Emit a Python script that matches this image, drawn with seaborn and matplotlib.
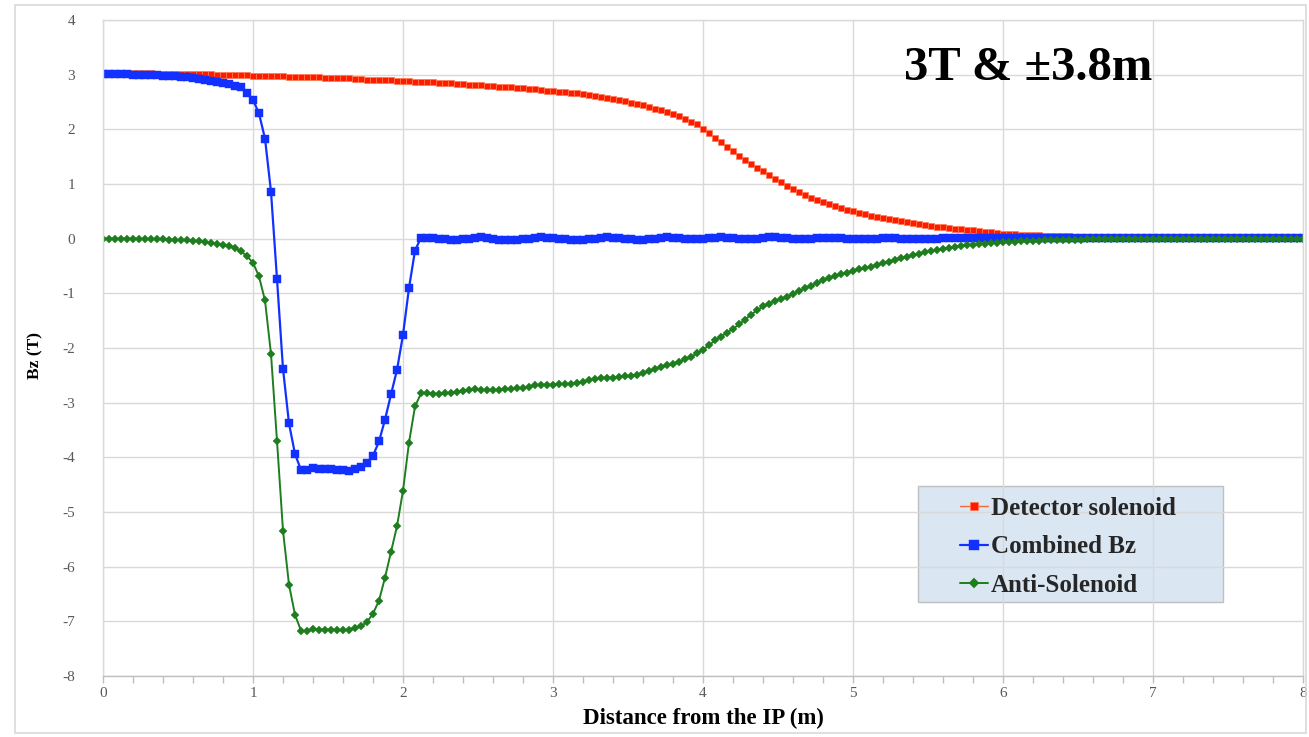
import numpy as np
import pandas as pd
import seaborn as sns
import matplotlib
matplotlib.use("Agg")
import matplotlib.pyplot as plt
from matplotlib.ticker import MultipleLocator
from matplotlib.patches import Rectangle

# ---------------- data ----------------
distance = np.round(np.arange(201) * 0.04, 2)   # sample positions along z (m)

detector = [
    3.03, 3.03, 3.03, 3.03, 3.03, 3.03, 3.03, 3.03, 3.03, 3.02, 3.02, 3.02, 3.02, 3.02, 3.02, 3.01, 3.01, 3.01, 3.01, 3.00, 3.00, 3.00, 3.00, 2.99, 2.99,
    2.98, 2.98, 2.98, 2.97, 2.97, 2.97, 2.96, 2.96, 2.96, 2.95, 2.95, 2.95, 2.94, 2.94, 2.93, 2.93, 2.93, 2.92, 2.92, 2.91, 2.91, 2.91, 2.90, 2.90, 2.89,
    2.88, 2.88, 2.87, 2.87, 2.86, 2.86, 2.85, 2.85, 2.84, 2.83, 2.83, 2.82, 2.81, 2.81, 2.80, 2.79, 2.78, 2.78, 2.77, 2.76, 2.75, 2.74, 2.73, 2.72, 2.71,
    2.70, 2.69, 2.68, 2.67, 2.66, 2.64, 2.63, 2.61, 2.59, 2.57, 2.55, 2.53, 2.51, 2.49, 2.47, 2.44, 2.41, 2.38, 2.35, 2.32, 2.28, 2.24, 2.19, 2.14, 2.09,
    2.00, 1.93, 1.84, 1.76, 1.68, 1.60, 1.52, 1.44, 1.37, 1.30, 1.23, 1.16, 1.09, 1.03, 0.97, 0.91, 0.85, 0.80, 0.75, 0.71, 0.67, 0.63, 0.59, 0.56, 0.53,
    0.50, 0.47, 0.45, 0.42, 0.40, 0.38, 0.36, 0.34, 0.32, 0.30, 0.28, 0.27, 0.25, 0.24, 0.22, 0.21, 0.20, 0.18, 0.17, 0.16, 0.15, 0.14, 0.13, 0.12, 0.11,
    0.09, 0.08, 0.08, 0.07, 0.07, 0.06, 0.06, 0.05, 0.05, 0.04, 0.04, 0.04, 0.03, 0.03, 0.03, 0.03, 0.02, 0.02, 0.02, 0.02, 0.02, 0.02, 0.02, 0.02, 0.02,
    0.02, 0.02, 0.02, 0.02, 0.02, 0.02, 0.02, 0.02, 0.02, 0.02, 0.02, 0.02, 0.02, 0.02, 0.02, 0.02, 0.02, 0.02, 0.02, 0.02, 0.02, 0.02, 0.02, 0.02, 0.02,
    0.02,
]

combined = [
    3.01, 3.01, 3.01, 3.01, 3.01, 3.00, 3.00, 3.00, 2.99, 2.99, 2.98, 2.98, 2.97, 2.96, 2.95, 2.94, 2.92, 2.91, 2.89, 2.87, 2.85, 2.83, 2.80, 2.77, 2.67,
    2.54, 2.29, 1.83, 0.86, -0.74, -2.38, -3.38, -3.94, -4.23, -4.24, -4.19, -4.22, -4.21, -4.22, -4.23, -4.24, -4.25, -4.22, -4.18, -4.11, -3.97, -3.71, -3.31, -2.85, -2.40,
    -1.76, -0.90, -0.22, 0.02, 0.02, 0.01, 0.00, -0.01, -0.02, -0.02, -0.01, 0.00, 0.02, 0.03, 0.01, -0.01, -0.02, -0.03, -0.02, -0.02, -0.01, 0.00, 0.02, 0.03, 0.02,
    0.01, 0.00, -0.01, -0.02, -0.02, -0.02, -0.01, 0.00, 0.02, 0.03, 0.02, 0.01, 0.00, -0.01, -0.02, -0.02, -0.01, 0.00, 0.02, 0.03, 0.02, 0.01, 0.00, -0.01, -0.01,
    0.00, 0.01, 0.02, 0.03, 0.02, 0.01, 0.00, -0.01, -0.01, 0.00, 0.02, 0.03, 0.03, 0.02, 0.01, 0.00, -0.01, -0.01, 0.00, 0.01, 0.02, 0.02, 0.02, 0.01, 0.00,
    -0.01, -0.01, -0.01, 0.00, 0.00, 0.01, 0.01, 0.01, 0.00, 0.00, -0.01, -0.01, 0.00, 0.00, 0.00, 0.01, 0.01, 0.01, 0.01, 0.01, 0.01, 0.01, 0.02, 0.02, 0.02,
    0.02, 0.02, 0.02, 0.02, 0.02, 0.02, 0.02, 0.02, 0.02, 0.02, 0.02, 0.02, 0.02, 0.02, 0.02, 0.02, 0.02, 0.02, 0.02, 0.02, 0.02, 0.02, 0.02, 0.02, 0.02,
    0.02, 0.02, 0.02, 0.02, 0.02, 0.02, 0.02, 0.02, 0.02, 0.02, 0.02, 0.02, 0.02, 0.02, 0.02, 0.02, 0.02, 0.02, 0.02, 0.02, 0.02, 0.02, 0.02, 0.02, 0.02,
    0.02,
]

anti = [
    0.00, 0.00, 0.00, 0.00, 0.00, 0.00, 0.00, -0.01, -0.01, -0.01, -0.01, -0.02, -0.02, -0.03, -0.03, -0.04, -0.05, -0.06, -0.08, -0.09, -0.11, -0.13, -0.17, -0.23, -0.32,
    -0.44, -0.69, -1.13, -2.11, -3.70, -5.34, -6.33, -6.88, -7.17, -7.18, -7.14, -7.15, -7.15, -7.15, -7.16, -7.16, -7.15, -7.12, -7.09, -7.01, -6.86, -6.62, -6.20, -5.73, -5.26,
    -4.61, -3.73, -3.07, -2.83, -2.83, -2.84, -2.84, -2.83, -2.82, -2.81, -2.78, -2.76, -2.75, -2.76, -2.77, -2.77, -2.76, -2.75, -2.75, -2.74, -2.73, -2.71, -2.68, -2.67, -2.67,
    -2.67, -2.66, -2.66, -2.65, -2.64, -2.62, -2.59, -2.56, -2.55, -2.54, -2.54, -2.53, -2.52, -2.51, -2.49, -2.46, -2.42, -2.38, -2.35, -2.32, -2.29, -2.25, -2.21, -2.16, -2.10,
    -2.03, -1.95, -1.86, -1.79, -1.72, -1.65, -1.57, -1.48, -1.39, -1.31, -1.24, -1.19, -1.14, -1.10, -1.06, -1.01, -0.96, -0.91, -0.86, -0.81, -0.76, -0.72, -0.68, -0.65, -0.62,
    -0.59, -0.56, -0.54, -0.51, -0.48, -0.45, -0.42, -0.39, -0.36, -0.33, -0.30, -0.28, -0.25, -0.23, -0.21, -0.19, -0.17, -0.15, -0.13, -0.12, -0.11, -0.10, -0.09, -0.08, -0.08,
    -0.07, -0.06, -0.06, -0.05, -0.05, -0.04, -0.04, -0.03, -0.03, -0.03, -0.02, -0.02, -0.02, -0.02, -0.01, -0.01, -0.01, -0.01, -0.01, -0.01, 0.00, 0.00, 0.00, 0.00, 0.00,
    0.00, 0.00, 0.00, 0.00, 0.00, 0.00, 0.00, 0.00, 0.00, 0.00, 0.00, 0.00, 0.00, 0.00, 0.00, 0.00, 0.00, 0.00, 0.00, 0.00, 0.00, 0.00, 0.00, 0.00, 0.00,
    0.00,
]

series_names = ["Detector solenoid", "Combined Bz", "Anti-Solenoid"]
x_ticks = [0, 1, 2, 3, 4, 5, 6, 7, 8]
y_ticks = [4, 3, 2, 1, 0, -1, -2, -3, -4, -5, -6, -7, -8]
x_label = "Distance from the IP (m)"
y_label = "Bz (T)"
annotation = "3T & \u00b13.8m"

# ---------------- style ----------------
sns.set_theme(style="white")
plt.rcParams["font.family"] = ["Liberation Serif", "DejaVu Serif"]
plt.rcParams["axes.unicode_minus"] = False

W, H = 1309, 737
fig = plt.figure(figsize=(W / 100, H / 100), dpi=100)
fig.patch.set_facecolor("white")
ax = fig.add_axes([103 / W, 1 - 676 / H, 1200 / W, 656 / H])

# outer chart border
fig.patches.append(Rectangle((15 / W, 1 - 733 / H), 1291 / W, 728 / H,
                             transform=fig.transFigure, fill=False,
                             edgecolor="#D9D9D9", lw=1.2))

df = pd.DataFrame({"distance": distance, "detector": detector,
                   "combined": combined, "anti": anti})

sns.lineplot(data=df, x="distance", y="detector", ax=ax, estimator=None, sort=False,
             color="#F26B3A", lw=1.0, marker="s", markersize=4.4,
             markerfacecolor="#FF1A00", markeredgecolor="#FF7A50", markeredgewidth=0.5,
             label=series_names[0], legend=False)
sns.lineplot(data=df, x="distance", y="combined", ax=ax, estimator=None, sort=False,
             color="#1230FF", lw=1.6, marker="s", markersize=5.2,
             markerfacecolor="#1230FF", markeredgecolor="#1230FF", markeredgewidth=0.3,
             label=series_names[1], legend=False)
sns.lineplot(data=df, x="distance", y="anti", ax=ax, estimator=None, sort=False,
             color="#1E7D1E", lw=1.4, marker="D", markersize=3.9,
             markerfacecolor="#1E7D1E", markeredgecolor="#1E7D1E", markeredgewidth=0.3,
             label=series_names[2], legend=False)

ax.set_xlim(0, 8)
ax.set_ylim(-8, 4)
ax.set_xticks(x_ticks)
ax.set_yticks(y_ticks)
ax.xaxis.set_minor_locator(MultipleLocator(0.2))
ax.set_axisbelow(True)
ax.grid(True, which="major", color="#D9D9D9", lw=1.0)

for side in ["top", "right", "left"]:
    ax.spines[side].set_visible(True)
    ax.spines[side].set_color("#D9D9D9")
    ax.spines[side].set_linewidth(1.0)
ax.spines["bottom"].set_color("#BFBFBF")
ax.spines["bottom"].set_linewidth(1.0)

ax.tick_params(axis="x", which="both", direction="out", length=5, width=1,
               color="#BFBFBF", labelsize=11, labelcolor="#595959", pad=3, bottom=True)
ax.tick_params(axis="y", which="both", length=0, labelsize=11,
               labelcolor="#595959", pad=20, left=False)

ax.set_xlabel(x_label, fontsize=16.5, fontweight="bold", color="black")
ax.set_ylabel(y_label, fontsize=12.5, fontweight="bold", color="black")
ax.xaxis.set_label_coords(0.5, -0.048)
ax.yaxis.set_label_coords(-0.050, 0.488)

ax.text(6.17, 3.13, annotation, ha="center", va="center", fontsize=35,
        fontweight="bold", color="black")

# legend box
ax.add_patch(Rectangle((0.6792, 0.1128), 0.2542, 0.1768, transform=ax.transAxes,
                       facecolor="#DAE6F2", edgecolor="#BFBFBF", lw=1.0, zorder=0.3))
handles = ax.get_lines()[:3]
ax.legend(handles, series_names, loc="upper left", bbox_to_anchor=(0.7035, 0.292),
          frameon=False, prop=dict(weight="bold", size=18), handlelength=1.15,
          handletextpad=0.1, labelspacing=0.62, borderpad=0, markerscale=1.3)

fig.savefig("out.png", dpi=100)
